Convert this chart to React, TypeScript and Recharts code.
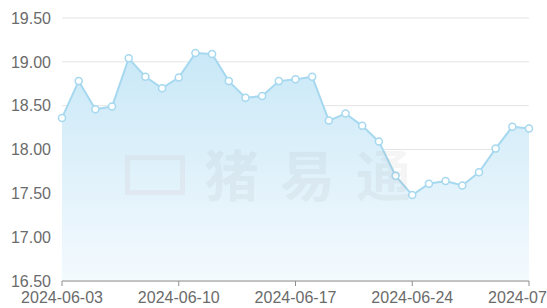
import {
  Area,
  AreaChart,
  CartesianGrid,
  XAxis,
  YAxis,
} from "recharts";

const dates = [
  "2024-06-03", "2024-06-04", "2024-06-05", "2024-06-06", "2024-06-07",
  "2024-06-08", "2024-06-09", "2024-06-10", "2024-06-11", "2024-06-12",
  "2024-06-13", "2024-06-14", "2024-06-15", "2024-06-16", "2024-06-17",
  "2024-06-18", "2024-06-19", "2024-06-20", "2024-06-21", "2024-06-22",
  "2024-06-23", "2024-06-24", "2024-06-25", "2024-06-26", "2024-06-27",
  "2024-06-28", "2024-06-29", "2024-06-30", "2024-07-01",
];

const prices = [
  18.36, 18.78, 18.46, 18.49, 19.04,
  18.83, 18.7, 18.82, 19.1, 19.09,
  18.78, 18.59, 18.61, 18.78, 18.8,
  18.83, 18.33, 18.41, 18.27, 18.09,
  17.7, 17.48, 17.61, 17.64, 17.59,
  17.74, 18.01, 18.26, 18.24,
];

const yTicks = [16.5, 17, 17.5, 18, 18.5, 19, 19.5];

const data = dates.map((date, i) => ({ date, price: prices[i] }));

const font = { fill: "#6b6b6b", fontSize: 16, fontFamily: "Liberation Sans, Arial, sans-serif" };

export default function App() {
  return (
    <div style={{ position: "absolute", left: 0, top: 0, width: 547, height: 308, background: "#fff" }}>
      <AreaChart
        width={547}
        height={308}
        data={data}
        margin={{ top: 18, right: 18, left: 0, bottom: 0 }}
      >
        <defs>
          <linearGradient id="fillBlue" x1="0" y1="0" x2="0" y2="1">
            <stop offset="0%" stopColor="#c9e8f7" stopOpacity={1} />
            <stop offset="100%" stopColor="#f4fafe" stopOpacity={1} />
          </linearGradient>
        </defs>
        <CartesianGrid stroke="#e4e4e4" vertical={false} />
        <XAxis
          dataKey="date"
          interval={6}
          height={27}
          tickSize={5}
          tickMargin={6}
          stroke="#8f8f8f"
          tick={font}
        />
        <YAxis
          width={62}
          domain={[16.5, 19.5]}
          ticks={yTicks}
          tickFormatter={(v) => Number(v).toFixed(2)}
          axisLine={false}
          tickLine={false}
          tickMargin={5}
          tick={font}
        />
        <Area
          type="linear"
          dataKey="price"
          stroke="#a6d8ef"
          strokeWidth={2}
          fill="url(#fillBlue)"
          fillOpacity={1}
          dot={{ r: 3.5, fill: "#fff", stroke: "#a6d8ef", strokeWidth: 1.5 }}
          activeDot={false}
          isAnimationActive={false}
        />
      </AreaChart>

      {/* watermark */}
      <div
        style={{
          position: "absolute",
          left: 125,
          top: 155,
          width: 50,
          height: 30,
          border: "5px solid rgba(190, 120, 120, 0.07)",
          pointerEvents: "none",
        }}
      />
      <div
        style={{
          position: "absolute",
          left: 204,
          top: 136,
          fontSize: 55,
          fontWeight: 700,
          letterSpacing: 21,
          lineHeight: "72px",
          color: "rgba(120, 120, 120, 0.07)",
          fontFamily: "Noto Sans CJK SC, sans-serif",
          pointerEvents: "none",
        }}
      >
        猪易通
      </div>
    </div>
  );
}
